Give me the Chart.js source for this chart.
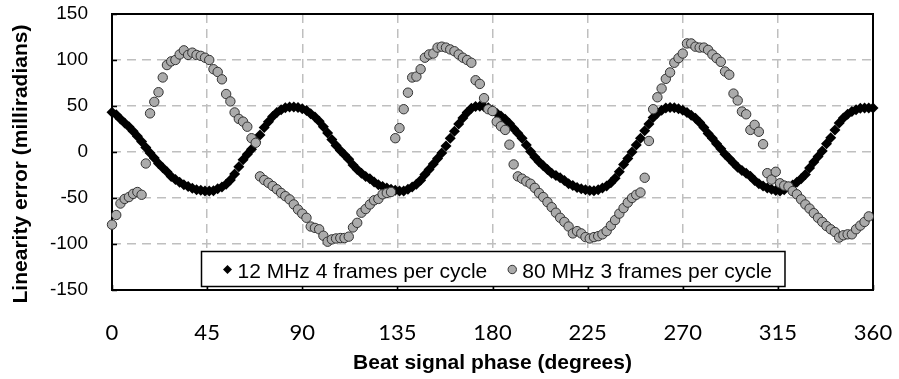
<!DOCTYPE html>
<html>
<head>
<meta charset="utf-8">
<script src="https://cdn.jsdelivr.net/npm/chart.js@4.4.0/dist/chart.umd.min.js"></script>
<style>
  body { margin: 0; background: #fff; }
  #wrap { width: 899px; height: 379px; }
</style>
</head>
<body>
<div id="wrap"><canvas id="errChart" width="899" height="379"></canvas></div>
<script>
// 12 MHz, 4 frames per cycle (black diamonds)
const phase12 = [0,2,4,6,8,10,12,14,16,18,20,22,24,26,28,30,32,34,36,38,40,42,44,46,48,50,52,54,56,58,
  60,62,64,66,68,70,72,74,76,78,80,82,84,86,88,90,92,94,96,98,100,102,104,106,108,110,112,114,116,118,
  120,122,124,126,128,130,132,134,136,138,140,142,144,146,148,150,152,154,156,158,160,162,164,166,168,170,172,174,176,178,
  180,182,184,186,188,190,192,194,196,198,200,202,204,206,208,210,212,214,216,218,220,222,224,226,228,230,232,234,236,238,
  240,242,244,246,248,250,252,254,256,258,260,262,264,266,268,270,272,274,276,278,280,282,284,286,288,290,292,294,296,298,
  300,302,304,306,308,310,312,314,316,318,320,322,324,326,328,330,332,334,336,338,340,342,344,346,348,350,352,354,356,358,360];
const err12 = [43.3,40.5,36,31.5,27.5,22.5,17,11.5,5,-1,-6.5,-12.5,-17,-21.5,-26.5,-30,-33,-35.5,-37.5,-39.5,
  -41,-41.5,-42.5,-42.5,-42,-40,-38,-35,-30.5,-24,-16,-8.5,-2.5,3,11,18.5,26.5,33,38.5,43,
  46,48,49,48.8,48.3,47,45,41.5,38,33.5,27.5,20.6,13.5,7,1.5,-3,-8,-14,-19,-23,
  -26.5,-29,-32.5,-35.5,-37.5,-39,-40.5,-41.5,-42.5,-42.5,-40.5,-38,-35,-30.7,-24.5,-19,-13,-7,-1,6.5,
  15,22.5,30.5,37,43,47.5,49.5,49.8,49.3,48,45,42.2,39,35.5,31,25.5,20.5,15,7.5,0.5,
  -5.5,-10.5,-15,-19,-23,-25.5,-28,-31,-34.5,-36.5,-38.5,-40,-41,-41.8,-42,-41,-39,-37,-33.5,-28.5,
  -21.5,-13.7,-7,0,7.5,15,23,30.5,37.5,42,45.5,47.7,48.5,48,47,45.5,43,40,36.8,32,
  26.5,20,15,9,3.5,-2.5,-7,-12,-16.5,-20,-23,-26.4,-31,-34.5,-37,-39,-40.5,-41.8,-42.5,-41,
  -38,-36,-33,-29,-24.5,-17.5,-11,-5,1,9,15.5,24,31.5,37,41,44,46,47.5,47.8,47.8,47.7];

// 80 MHz, 3 frames per cycle (grey circles)
const phase80 = [0,2,4,6,8,10,12,14,16,18,20,22,24,26,28,30,32,34,36,38,40,42,44,46,48,50,52,54,56,58,
  60,62,64,66,68,70,72,74,76,78,80,82,84,86,88,90,92,94,96,98,100,102,104,106,108,110,112,114,116,118,
  120,122,124,126,128,130,132,134,136,138,140,142,144,146,148,150,152,154,156,158,160,162,164,166,168,170,172,174,176,178,
  180,182,184,186,188,190,192,194,196,198,200,202,204,206,208,210,212,214,216,218,220,222,224,226,228,230,232,234,236,238,
  240,242,244,246,248,250,252,254,256,258,260,262,264,266,268,270,272,274,276,278,280,282,284,286,288,290,292,294,296,298,
  300,302,304,306,308,310,312,314,316,318,320,322,324,326,328,330,332,334,336,338,340,342,344,346,348,350,352,354,356,358];
const err80 = [-79,-68.5,-56,-51,-49,-45.5,-43.5,-46.5,-12.5,42,54.5,65,81,94.5,98.5,100,106,110.5,105.5,108,
  105.5,104.5,102.5,100,90,87,79,63,55,43,36,33,27.5,15,10,-26.5,-30.5,-33.5,-37,-40.5,
  -44.5,-48,-51.5,-57,-62.5,-67,-71.5,-81,-82.5,-84,-91,-97.5,-95,-94,-93.5,-93.5,-92,-82,-77,-66,
  -62,-57,-52.5,-51,-46,-44.5,-43.5,15,26,46.5,64.5,81,82,90,102.5,106,107,113.5,114.5,113.5,
  111.5,109.5,106,102.5,100,97,78,74,58.5,46.5,44.5,33,28,24,8,-13.5,-26.5,-29,-32,-34.5,
  -39,-44.5,-49,-54.5,-60,-66,-71.5,-76,-81,-88.5,-86,-88.5,-92.5,-94,-92.5,-91.5,-89.5,-86,-80,-74,
  -67,-61,-55,-50,-46.5,-44,-28,12,46.5,59.5,69,79.5,86.5,97,102,107,118,118,114.5,113.5,
  113.5,111,106,102,98,87.5,84,63.5,56,44,41,24,29.5,22,8.5,-23,-30,-21.5,-34,-36.5,
  -37.5,-42.5,-46,-51.5,-57,-61.5,-66.5,-71.5,-76,-80.5,-84,-87,-93,-90.5,-89.5,-89.5,-84,-80,-76,-70];

const seriesNames = ["12 MHz 4 frames per cycle", "80 MHz 3 frames per cycle"];
const xTicks = [0, 45, 90, 135, 180, 225, 270, 315, 360];
const yTicks = [-150, -100, -50, 0, 50, 100, 150];

const arial = '"Liberation Sans", Arial, sans-serif';
const GREY = "#ababab";

function pts(xs, ys) {
  return xs.map((x, i) => ({ x: x, y: ys[i] }));
}

// 플롯 테두리 + 안쪽 눈금
const framePlugin = {
  id: "frame",
  beforeDatasetsDraw(chart) {
    const { ctx, chartArea: a, scales } = chart;
    ctx.save();
    ctx.strokeStyle = "#000";
    ctx.lineWidth = 1.5;
    ctx.beginPath();
    yTicks.forEach(v => {
      const y = Math.round(scales.y.getPixelForValue(v)) + 0.5;
      ctx.moveTo(a.left, y);
      ctx.lineTo(a.left + 5, y);
    });
    xTicks.forEach(v => {
      const x = Math.round(scales.x.getPixelForValue(v)) + 0.5;
      ctx.moveTo(x, a.bottom);
      ctx.lineTo(x, a.bottom - 5);
    });
    ctx.stroke();
    ctx.lineWidth = 2;
    ctx.strokeRect(a.left, a.top, a.right - a.left, a.bottom - a.top);
    ctx.restore();
  }
};

// 범례 (플롯 안쪽 아래)
const legendPlugin = {
  id: "innerLegend",
  afterDatasetsDraw(chart) {
    const { ctx, chartArea: a } = chart;
    ctx.save();
    ctx.font = "21px " + arial;
    const w1 = ctx.measureText(seriesNames[0]).width;
    const w2 = ctx.measureText(seriesNames[1]).width;
    const boxW = 26 + 10 + w1 + 25 + 10 + w2 + 13;
    const boxH = 35;
    const left = Math.round((a.left + a.right) / 2 - boxW / 2) + 0.5;
    const top = a.bottom - 4 - boxH + 0.5;
    ctx.fillStyle = "#fff";
    ctx.fillRect(left, top, boxW, boxH);
    ctx.strokeStyle = "#000";
    ctx.lineWidth = 1.5;
    ctx.strokeRect(left, top, boxW, boxH);

    const cy = top + 18;
    // diamond
    const m1 = left + 26;
    ctx.fillStyle = "#000";
    ctx.beginPath();
    ctx.moveTo(m1, cy - 4.5);
    ctx.lineTo(m1 + 4.5, cy);
    ctx.lineTo(m1, cy + 4.5);
    ctx.lineTo(m1 - 4.5, cy);
    ctx.closePath();
    ctx.fill();
    ctx.textBaseline = "alphabetic";
    ctx.textAlign = "left";
    ctx.fillText(seriesNames[0], m1 + 10, top + 26);

    // circle
    const m2 = m1 + 10 + w1 + 25;
    ctx.beginPath();
    ctx.arc(m2, cy, 4.2, 0, Math.PI * 2);
    ctx.fillStyle = GREY;
    ctx.fill();
    ctx.lineWidth = 1;
    ctx.strokeStyle = "#333";
    ctx.stroke();
    ctx.fillStyle = "#000";
    ctx.fillText(seriesNames[1], m2 + 10, top + 26);
    ctx.restore();
  }
};

// 세로축 제목
const yTitlePlugin = {
  id: "yTitle",
  afterDraw(chart) {
    const { ctx } = chart;
    ctx.save();
    ctx.translate(21, 164);
    ctx.rotate(-Math.PI / 2);
    ctx.font = "bold 21px " + arial;
    ctx.fillStyle = "#000";
    ctx.textAlign = "center";
    ctx.textBaseline = "middle";
    ctx.fillText("Linearity error (milliradians)", 0, 0);
    ctx.restore();
  }
};

const gridColor = edgeValues => c =>
  edgeValues.includes(c.tick.value) ? "rgba(0,0,0,0)" : "#bfbfbf";

new Chart(document.getElementById("errChart"), {
  type: "scatter",
  data: {
    datasets: [{
      label: seriesNames[0],
      data: pts(phase12, err12),
      pointStyle: "rectRot",
      pointRadius: 5.5,
      backgroundColor: "#000",
      borderColor: "#000",
      borderWidth: 0,
      clip: false,
      order: 1
    }, {
      label: seriesNames[1],
      data: pts(phase80, err80),
      pointStyle: "circle",
      pointRadius: 4.7,
      backgroundColor: GREY,
      borderColor: "#333",
      borderWidth: 1,
      clip: false,
      order: 0
    }]
  },
  options: {
    responsive: false,
    animation: false,
    events: [],
    layout: { padding: { top: 14, right: 26, left: 0, bottom: 0 } },
    plugins: {
      legend: { display: false },
      tooltip: { enabled: false }
    },
    scales: {
      x: {
        type: "linear",
        min: 0,
        max: 360,
        afterBuildTicks: s => { s.ticks = xTicks.map(v => ({ value: v })); },
        afterFit: s => {
          s.height = 89;
          s.paddingLeft = 0;
          s.paddingRight = 0;
        },
        ticks: {
          color: "#000",
          font: { family: "Lato, 'Open Sans', sans-serif", size: 22 },
          padding: 30,
          maxRotation: 0
        },
        grid: { color: gridColor([0, 360]), lineWidth: 1.5, drawTicks: false },
        border: { display: false, dash: [9, 6] },
        title: {
          display: true,
          text: "Beat signal phase (degrees)",
          color: "#000",
          font: { family: arial, size: 21, weight: "bold" },
          padding: { top: 0, bottom: 3 }
        }
      },
      y: {
        min: -150,
        max: 150,
        afterBuildTicks: s => { s.ticks = yTicks.map(v => ({ value: v })); },
        afterFit: s => {
          s.width = 112;
          s.paddingTop = 0;
          s.paddingBottom = 0;
        },
        ticks: {
          color: "#000",
          font: { family: arial, size: 19 },
          padding: 24
        },
        grid: { color: gridColor([-150, 150]), lineWidth: 1.5, drawTicks: false },
        border: { display: false, dash: [9, 6] }
      }
    }
  },
  plugins: [framePlugin, legendPlugin, yTitlePlugin]
});
</script>
</body>
</html>
